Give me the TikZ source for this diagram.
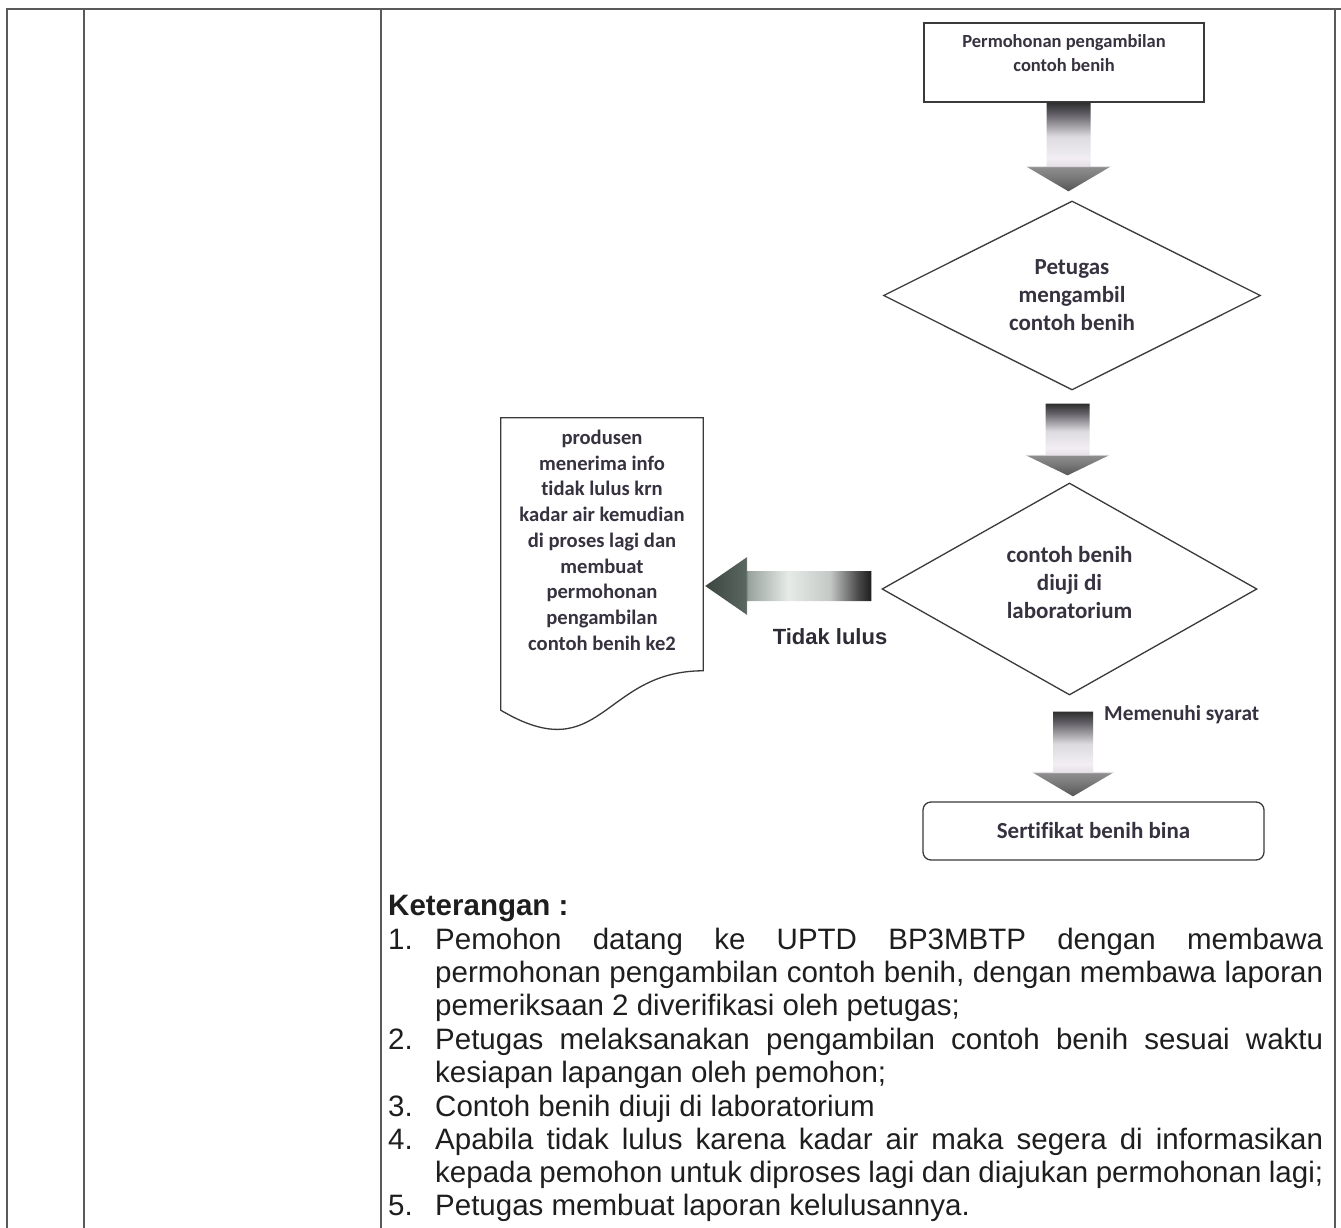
\documentclass[tikz,border=0pt]{standalone}
\usepackage{fontspec}
\setmainfont{Liberation Sans}
\newfontfamily\flowfont[Ligatures={NoCommon}]{Carlito}
\usetikzlibrary{shapes.geometric,calc}

% ---------- colours ----------
\definecolor{tableline}{HTML}{5A5A5A}
\definecolor{shapeline}{HTML}{3A3A3A}
\definecolor{flowtext}{HTML}{37323F}
\definecolor{bodytext}{HTML}{1E1E1E}
% downward block arrows: dark top, pale shaft, grey head
\definecolor{da0}{HTML}{2E2E2E}
\definecolor{da1}{HTML}{5E5C62}
\definecolor{da2}{HTML}{DCDADF}
\definecolor{da3}{HTML}{F2EEF4}
\definecolor{da4}{HTML}{E4E0E6}
\definecolor{da5}{HTML}{8E8E8E}
\definecolor{da6}{HTML}{787878}
\definecolor{da7}{HTML}{555555}
% leftward block arrow: greenish head, pale middle, black tail
\definecolor{la0}{HTML}{3C4640}
\definecolor{la1}{HTML}{5A6660}
\definecolor{la2}{HTML}{98A29C}
\definecolor{la3}{HTML}{E6EBE8}
\definecolor{la4}{HTML}{C4C8C6}
\definecolor{la5}{HTML}{4A4A4A}
\definecolor{la6}{HTML}{1E1E1E}

\pgfdeclareverticalshading{downblock}{100bp}{%
  color(0bp)=(da7); color(25bp)=(da7); color(32.5bp)=(da6);
  color(38.7bp)=(da5); color(39.3bp)=(da4); color(44bp)=(da3);
  color(56bp)=(da2); color(69bp)=(da1); color(75bp)=(da0); color(100bp)=(da0)}
\pgfdeclarehorizontalshading{leftblock}{100bp}{%
  color(0bp)=(la0); color(25bp)=(la0); color(37.2bp)=(la1);
  color(37.8bp)=(la2); color(50bp)=(la3); color(62.5bp)=(la4);
  color(71bp)=(la5); color(75bp)=(la6); color(100bp)=(la6)}

% block arrow pointing down: #1 tail centre, #2 tip, #3 half shaft, #4 half head, #5 head length
\newcommand\downblockarrow[5]{%
  \path[shading=downblock] let \p1=#1, \p2=#2 in
    (\x1-#3pt,\y1) -- (\x1+#3pt,\y1) -- (\x1+#3pt,\y2+#5pt) -- (\x1+#4pt,\y2+#5pt)
    -- (\x1,\y2) -- (\x1-#4pt,\y2+#5pt) -- (\x1-#3pt,\y2+#5pt) -- cycle;}
% block arrow pointing left: #1 tail centre, #2 tip, #3 half shaft, #4 half head, #5 head length
\newcommand\leftblockarrow[5]{%
  \path[shading=leftblock] let \p1=#1, \p2=#2 in
    (\x1,\y1+#3pt) -- (\x1,\y1-#3pt) -- (\x2+#5pt,\y1-#3pt) -- (\x2+#5pt,\y1-#4pt)
    -- (\x2,\y1) -- (\x2+#5pt,\y1+#4pt) -- (\x2+#5pt,\y1+#3pt) -- cycle;}

\newcommand\kfont{\fontsize{29.5}{33}\selectfont}
\newcommand\jline[1]{\makebox[888pt][s]{#1}}

\tikzset{
  tableframe/.style={draw=tableline, line width=2pt},
  flowbox/.style={draw=shapeline, line width=1.3pt, fill=white, inner sep=0},
  decision/.style={diamond, draw=shapeline, line width=1.3pt, inner sep=0, aspect=2,
    align=center, text=flowtext, font=\flowfont\bfseries\fontsize{23}{28}\selectfont},
  flowlabel/.style={align=center, inner sep=0, text=flowtext},
  kline/.style={anchor=base west, inner sep=0, text=bodytext, font=\kfont},
}

\begin{document}
\begin{tikzpicture}[x=1pt, y=-1pt]
\useasboundingbox (0,0) rectangle (1341,1228);
\fill[white] (0,0) rectangle (1341,1228);

% table rules
\draw[tableframe] (7,1228) -- (7,9.5) -- (1341,9.5);
\draw[tableframe] (84,9.5) -- (84,1228);
\draw[tableframe] (381,9.5) -- (381,1228);
\draw[tableframe] (1335,9.5) -- (1335,1228);

% flow chart shapes
\node[flowbox, minimum width=280, minimum height=79,
  label={[flowlabel, anchor=north, yshift=-12pt,
    font=\flowfont\bfseries\fontsize{18.5}{24}\selectfont]north:{Permohonan pengambilan\\contoh benih}}]
  (req) at (1064,62.5) {};

\node[decision, minimum width=377, minimum height=189] (d1) at (1072,295.5)
  {Petugas\\mengambil\\contoh benih};

\node[decision, minimum width=375, minimum height=212,
  label={[flowlabel, yshift=6pt, font=\flowfont\bfseries\fontsize{23}{28}\selectfont]center:{contoh benih\\diuji di\\laboratorium}}]
  (d2) at (1069.5,589) {};

\node[flowbox, rounded corners=8pt, minimum width=341, minimum height=58,
  text=flowtext, font=\flowfont\bfseries\fontsize{23}{26}\selectfont]
  (fin) at (1093.5,831) {Sertifikat benih bina};

% document shape with wavy bottom edge
\node[minimum width=202, minimum height=312.7, inner sep=0,
  label={[flowlabel, anchor=north, yshift=-12pt,
    font=\flowfont\bfseries\fontsize{20.6}{25.75}\selectfont]north:{produsen\\menerima info\\tidak lulus krn\\kadar air kemudian\\di proses lagi dan\\membuat\\permohonan\\pengambilan\\contoh benih ke2}}]
  (doc) at (602,574.35) {};
\draw[shapeline, line width=1.3pt]
  (doc.north west) -- (doc.north east) -- ($(doc.north east)!0.808!(doc.south east)$)
  .. controls ($(doc.north)!0.808!(doc.south)$) and ($(doc.north)!1.125!(doc.south)$)
  .. ($(doc.north west)!0.934!(doc.south west)$) -- cycle;

% connectors
\coordinate (a1t) at ($(req.south)+(4.5,0)$);
\coordinate (a1h) at ($(a1t |- d1.north)+(0,-9)$);
\downblockarrow{(a1t)}{(a1h)}{22}{42.5}{25}

\coordinate (a2t) at ($(d1.south)+(-4.5,13)$);
\coordinate (a2h) at ($(a2t |- d2.north)+(0,-7)$);
\downblockarrow{(a2t)}{(a2h)}{22}{42.5}{20.5}

\coordinate (a3t) at ($(d2.south)+(3.5,16)$);
\coordinate (a3h) at ($(a3t |- fin.north)+(0,-5)$);
\downblockarrow{(a3t)}{(a3h)}{20}{41.5}{24.5}

\coordinate (a4t) at ($(d2.west)+(-10,-3)$);
\coordinate (a4h) at ($(doc.east |- a4t)+(2,0)$);
\leftblockarrow{(a4t)}{(a4h)}{15}{29}{42}

% connector labels
\node[inner sep=0, text=flowtext!85!black, font=\bfseries\fontsize{22}{26}\selectfont]
  (nolulus) at (830,637) {Tidak lulus};
\node[anchor=west, inner sep=0, text=flowtext, font=\flowfont\bfseries\fontsize{21.3}{24}\selectfont]
  (syarat) at (1104,715) {Memenuhi syarat};

% notes
\node[kline, font=\kfont\bfseries] (ket) at (388,915) {Keterangan :};
\node[kline] (n1) at (388,949) {1.};
\node[kline] (t1a) at (435,949) {\jline{Pemohon datang ke UPTD BP3MBTP dengan membawa}};
\node[kline] (t1b) at (435,982) {\jline{permohonan pengambilan contoh benih, dengan membawa laporan}};
\node[kline] (t1c) at (435,1015) {pemeriksaan 2 diverifikasi oleh petugas;};
\node[kline] (n2) at (388,1049) {2.};
\node[kline] (t2a) at (435,1049) {\jline{Petugas melaksanakan pengambilan contoh benih sesuai waktu}};
\node[kline] (t2b) at (435,1082) {kesiapan lapangan oleh pemohon;};
\node[kline] (n3) at (388,1116) {3.};
\node[kline] (t3a) at (435,1116) {Contoh benih diuji di laboratorium};
\node[kline] (n4) at (388,1149) {4.};
\node[kline] (t4a) at (435,1149) {\jline{Apabila tidak lulus karena kadar air maka segera di informasikan}};
\node[kline] (t4b) at (435,1182) {\jline{kepada pemohon untuk diproses lagi dan diajukan permohonan lagi;}};
\node[kline] (n5) at (388,1215) {5.};
\node[kline] (t5a) at (435,1215) {Petugas membuat laporan kelulusannya.};
\end{tikzpicture}
\end{document}
